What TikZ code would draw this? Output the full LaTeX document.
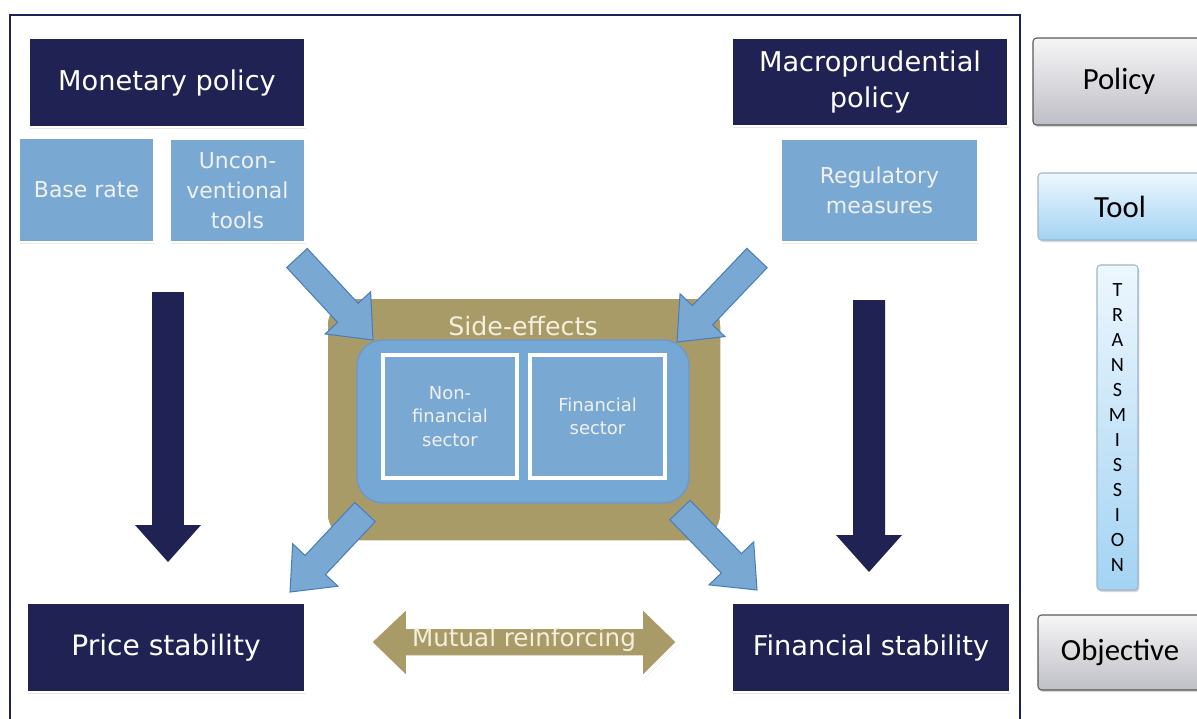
\documentclass[tikz,border=0pt]{standalone}
\usepackage{fontspec}
\setmainfont{DejaVu Sans}
\newfontfamily\carl{Carlito}
\usetikzlibrary{calc,shadows}
\definecolor{navy}{HTML}{1F2252}
\definecolor{lblue}{HTML}{79A9D3}
\definecolor{sidetan}{HTML}{A99B68}
\definecolor{arrowedge}{HTML}{4A7EBB}
\definecolor{innerblue}{HTML}{76A8D5}
\definecolor{cream}{HTML}{F3EFDC}
\definecolor{graytop}{HTML}{F6F6F7}
\definecolor{graybot}{HTML}{BEBEC6}
\definecolor{bluetop}{HTML}{EDF7FE}
\definecolor{bluebot}{HTML}{A3D3F3}
\definecolor{blueline}{HTML}{9DB6CA}
% #1 style, #2 start, #3 end, #4 half shaft, #5 half head, #6 head length
\newcommand\fatarrow[6]{%
  \coordinate (fa-h) at ($(#3)!#6!(#2)$);
  \path[#1] ($(#2)!#4!90:(#3)$) -- ($(fa-h)!#4!90:(#3)$) -- ($(fa-h)!#5!90:(#3)$)
     -- (#3) -- ($(fa-h)!#5!-90:(#3)$) -- ($(fa-h)!#4!-90:(#3)$) -- ($(#2)!#4!-90:(#3)$) -- cycle;}
\tikzset{
  shad/.style={drop shadow={opacity=0.18, shadow xshift=0.7pt, shadow yshift=-1.2pt}},
  darkbox/.style={fill=navy, draw=white, line width=1.5pt, text=white, align=center,
     font=\fontsize{15.5}{20}\selectfont, inner sep=0pt, shad},
  lightbox/.style={fill=lblue, draw=white, line width=1.5pt, text=white!94!black, align=center,
     font=\fontsize{12.5}{17}\selectfont, inner sep=0pt, shad},
  sectorbox/.style={fill=lblue, draw=white, line width=2pt, text=white!94!black, align=center,
     font=\fontsize{10.2}{13.4}\selectfont, inner sep=0pt, shad},
  graylegend/.style={top color=graytop, bottom color=graybot, draw=black!65,
     line width=0.6pt, rounded corners=2pt, font=\carl\fontsize{17.5}{20}\selectfont, inner sep=0pt,
     drop shadow={opacity=0.3, shadow xshift=0.8pt, shadow yshift=-1.2pt}},
  bluelegend/.style={top color=bluetop, bottom color=bluebot, draw=blueline,
     line width=0.6pt, rounded corners=2pt, font=\carl\fontsize{17.5}{20}\selectfont, inner sep=0pt,
     drop shadow={opacity=0.3, shadow xshift=0.8pt, shadow yshift=-1.2pt}},
  bluearrow/.style={fill=lblue, draw=arrowedge, line width=0.6pt, line join=miter},
  darkarrow/.style={fill=navy},
}
\begin{document}
\begin{tikzpicture}[x=0.02cm,y=-0.02cm]
\useasboundingbox (0,0) rectangle (1197,718);
\clip (0,0) rectangle (1197,718);
\fill[white] (0,0) rectangle (1197,718);
% frame
\draw[navy, line width=1.2pt] (10,725) -- (10,15) -- (1020,15) -- (1020,725);

% policy boxes
\node[darkbox, minimum width=276*0.02cm, minimum height=89*0.02cm] (mon) at (167,82.5) {Monetary policy};
\node[lightbox, minimum width=135*0.02cm, minimum height=104*0.02cm] (base) at (86.5,190) {Base rate};
\node[lightbox, minimum width=135*0.02cm, minimum height=103*0.02cm] (uncon) at (237.5,190.5) {Uncon-\\ventional\\tools};
\node[darkbox, minimum width=276*0.02cm, minimum height=88*0.02cm] (macro) at (870,82) {Macroprudential\\policy};
\node[lightbox, minimum width=197*0.02cm, minimum height=103*0.02cm] (reg) at (879.5,190.5) {Regulatory\\measures};

% objectives
\node[darkbox, minimum width=278*0.02cm, minimum height=89*0.02cm, font=\fontsize{16}{20}\selectfont] (price) at (166,647.5) {Price stability};
\node[darkbox, minimum width=278*0.02cm, minimum height=89*0.02cm] (finstab) at (871,647.5) {Financial stability};

% side effects
\node[fill=sidetan, draw=white, line width=2pt, rounded corners=28*0.02cm, minimum width=396*0.02cm,
      minimum height=245*0.02cm, shad] (side) at (524,419.5) {};
\node[text=cream, font=\fontsize{14.4}{16}\selectfont, inner sep=0pt] (sidelab) at (523,326) {Side-effects};
\node[fill=innerblue, draw=arrowedge!80, line width=0.8pt, rounded corners=26*0.02cm, minimum width=332*0.02cm,
      minimum height=163*0.02cm] (inner) at (523,421.5) {};
\node[sectorbox, minimum width=134*0.02cm, minimum height=123*0.02cm] (nonfin) at (450,416.5) {Non-\\financial\\sector};
\node[sectorbox, minimum width=135*0.02cm, minimum height=123*0.02cm] (fin) at (597.5,416.5) {Financial\\sector};

% dark transmission arrows
\coordinate (dl1) at (168,292);
\coordinate (dl2) at (168,562);
\coordinate (dr1) at (869,300);
\coordinate (dr2) at (869,572);
\fatarrow{darkarrow}{dl1}{dl2}{0.32cm}{0.66cm}{0.74cm}
\fatarrow{darkarrow}{dr1}{dr2}{0.32cm}{0.66cm}{0.74cm}

% light blue side arrows
\coordinate (a1s) at (297,258);
\coordinate (a1e) at (373,340);
\coordinate (a2s) at (757,258);
\coordinate (a2e) at (677,342);
\coordinate (a3s) at (365,512);
\coordinate (a3e) at (290,592);
\coordinate (a4s) at (680,510);
\coordinate (a4e) at (757,590);
\fatarrow{bluearrow}{a1s}{a1e}{0.28cm}{0.62cm}{0.74cm}
\fatarrow{bluearrow}{a2s}{a2e}{0.28cm}{0.62cm}{0.74cm}
\fatarrow{bluearrow}{a3s}{a3e}{0.28cm}{0.62cm}{0.74cm}
\fatarrow{bluearrow}{a4s}{a4e}{0.28cm}{0.62cm}{0.74cm}

% mutual reinforcing double arrow
\path[fill=sidetan, draw=white, line width=2pt, line join=miter, shad]
  (370,642) -- (408,606) -- (408,627) -- (641,627) -- (641,606) -- (678,642)
  -- (641,679) -- (641,657) -- (408,657) -- (408,679) -- cycle;
\node[text=cream, font=\fontsize{14}{16}\selectfont, inner sep=0pt] (mutual) at (524,640) {Mutual reinforcing};

% legend column
\node[graylegend, minimum width=172*0.02cm, minimum height=87*0.02cm] (policy) at (1119,81.5) {Policy};
\node[bluelegend, minimum width=164*0.02cm, minimum height=67*0.02cm] (tool) at (1120,206.5) {Tool};
\node[bluelegend, minimum width=41*0.02cm, minimum height=325*0.02cm, align=center,
      font=\carl\fontsize{11.5}{14.2}\selectfont] (trans) at (1117.5,427.5)
      {T\\R\\A\\N\\S\\M\\I\\S\\S\\I\\O\\N};
\node[graylegend, minimum width=164*0.02cm, minimum height=75*0.02cm] (obj) at (1120,652.5) {Objective};
\end{tikzpicture}
\end{document}
